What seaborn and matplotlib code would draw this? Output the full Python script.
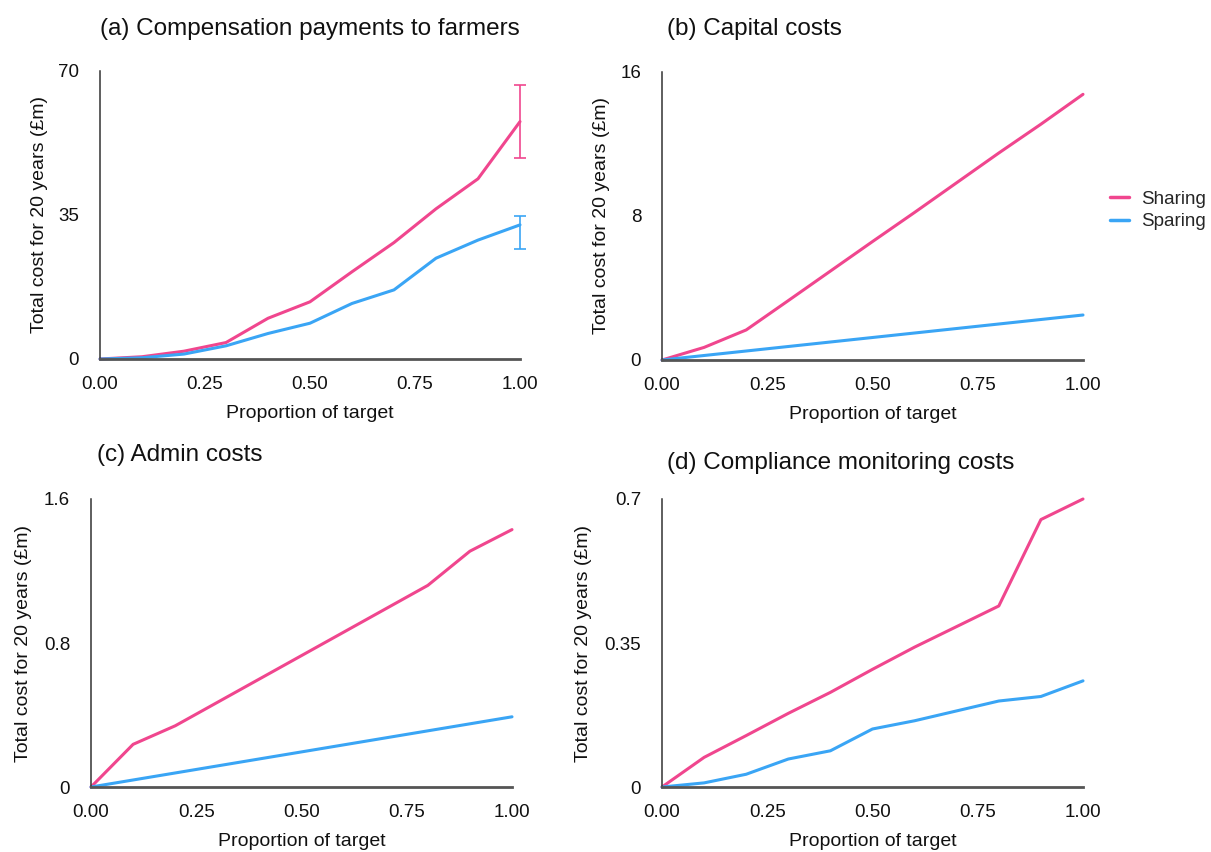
import numpy as np
import pandas as pd
import matplotlib
matplotlib.use("Agg")
import matplotlib.pyplot as plt
import seaborn as sns
from matplotlib.lines import Line2D

sns.set_theme(style="white")
plt.rcParams["font.family"] = ["Liberation Sans", "DejaVu Sans"]

# Proportion of the habitat target delivered
proportion = [0.0, 0.1, 0.2, 0.3, 0.4, 0.5, 0.6, 0.7, 0.8, 0.9, 1.0]

# (a) Compensation payments to farmers (£m over 20 years)
comp_sharing = [0.0, 0.55, 1.9, 4.0, 9.9, 13.9, 21.2, 28.3, 36.5, 43.8, 57.7]
comp_sparing = [0.0, 0.3, 1.2, 3.2, 6.2, 8.7, 13.5, 16.8, 24.5, 28.9, 32.6]
comp_sharing_err = (48.8, 66.6)   # lower, upper at full target
comp_sparing_err = (26.7, 34.8)

# (b) Capital costs
cap_sharing = [0.0, 0.7, 1.67, 3.3, 4.94, 6.58, 8.2, 9.85, 11.5, 13.1, 14.76]
cap_sparing = [0.0, 0.25, 0.5, 0.75, 1.0, 1.25, 1.5, 1.75, 2.0, 2.25, 2.5]

# (c) Admin costs
adm_sharing = [0.0, 0.237, 0.34, 0.47, 0.60, 0.73, 0.86, 0.99, 1.12, 1.31, 1.43]
adm_sparing = [0.0, 0.039, 0.078, 0.117, 0.156, 0.195, 0.234, 0.273, 0.312, 0.351, 0.39]

# (d) Compliance monitoring costs
mon_sharing = [0.0, 0.072, 0.125, 0.179, 0.23, 0.286, 0.34, 0.39, 0.44, 0.65, 0.70]
mon_sparing = [0.0, 0.01, 0.031, 0.068, 0.088, 0.141, 0.161, 0.185, 0.209, 0.22, 0.258]

panel_titles = ["(a) Compensation payments to farmers", "(b) Capital costs",
                "(c) Admin costs", "(d) Compliance monitoring costs"]
y_ticks = [[0, 35, 70], [0, 8, 16], [0, 0.8, 1.6], [0, 0.35, 0.7]]
y_ticklabels = [["0", "35", "70"], ["0", "8", "16"], ["0", "0.8", "1.6"], ["0", "0.35", "0.7"]]
x_ticks = [0.0, 0.25, 0.5, 0.75, 1.0]
x_ticklabels = ["0.00", "0.25", "0.50", "0.75", "1.00"]
schemes = ["Sharing", "Sparing"]

series = [(comp_sharing, comp_sparing), (cap_sharing, cap_sparing),
          (adm_sharing, adm_sparing), (mon_sharing, mon_sparing)]

palette = {"Sharing": "#F0468E", "Sparing": "#3AA5F5"}

W, H = 1211, 852
fig = plt.figure(figsize=(W / 100, H / 100), dpi=100)

# axes boxes in pixels: left, top, right, bottom
boxes = [(100, 71, 520, 359), (662, 72, 1083, 360),
         (91, 499, 512, 787), (662, 499, 1083, 787)]
title_y = [1.146, 1.149, 1.153, 1.125]
title_x = [0.0, 0.012, 0.014, 0.012]
ylabel_x = [-0.124, -0.124, -0.140, -0.166]

for i, (l, t, r, b) in enumerate(boxes):
    ax = fig.add_axes([l / W, 1 - b / H, (r - l) / W, (b - t) / H])
    sharing, sparing = series[i]
    df = pd.DataFrame({
        "proportion": proportion * 2,
        "cost": list(sharing) + list(sparing),
        "scheme": ["Sharing"] * len(proportion) + ["Sparing"] * len(proportion),
    })
    sns.lineplot(data=df, x="proportion", y="cost", hue="scheme",
                 palette=palette, linewidth=2.2, ax=ax, legend=False,
                 clip_on=False)

    if i == 0:
        for name, vals, err in [("Sharing", sharing, comp_sharing_err),
                                ("Sparing", sparing, comp_sparing_err)]:
            yv = vals[-1]
            ax.errorbar([proportion[-1]], [yv],
                        yerr=[[yv - err[0]], [err[1] - yv]],
                        fmt="none", ecolor=palette[name], elinewidth=1.4,
                        capsize=4, capthick=1.4, alpha=0.85, clip_on=False)

    ax.set_xlim(0, 1)
    ax.set_ylim(0, y_ticks[i][-1])
    ax.set_xticks(x_ticks)
    ax.set_xticklabels(x_ticklabels)
    ax.set_yticks(y_ticks[i])
    ax.set_yticklabels(y_ticklabels[i])
    ax.tick_params(axis="both", length=0, labelsize=13.5, colors="#111111")
    ax.tick_params(axis="x", pad=12)
    ax.tick_params(axis="y", pad=15)

    for side in ["top", "right"]:
        ax.spines[side].set_visible(False)
    ax.spines["left"].set_color("#333333")
    ax.spines["left"].set_linewidth(1.1)
    ax.spines["bottom"].set_color("#555555")
    ax.spines["bottom"].set_linewidth(2.0)

    ax.set_xlabel("Proportion of target", fontsize=14, color="#111111")
    ax.set_ylabel("Total cost for 20 years (£m)", fontsize=14, color="#111111")
    ax.xaxis.set_label_coords(0.5, -0.16)
    ax.yaxis.set_label_coords(ylabel_x[i], 0.5)

    ax.text(title_x[i], title_y[i], panel_titles[i], transform=ax.transAxes,
            fontsize=17.5, ha="left", va="center", color="#111111")

handles = [Line2D([0], [0], color=palette[s], lw=2.5) for s in schemes]
fig.legend(handles, schemes, loc="center left",
           bbox_to_anchor=(1093 / W, 1 - 210.5 / H), frameon=False,
           fontsize=13.5, handlelength=1.0, handletextpad=0.64,
           labelspacing=0.3)

fig.savefig("out.png", dpi=100, facecolor="white")
